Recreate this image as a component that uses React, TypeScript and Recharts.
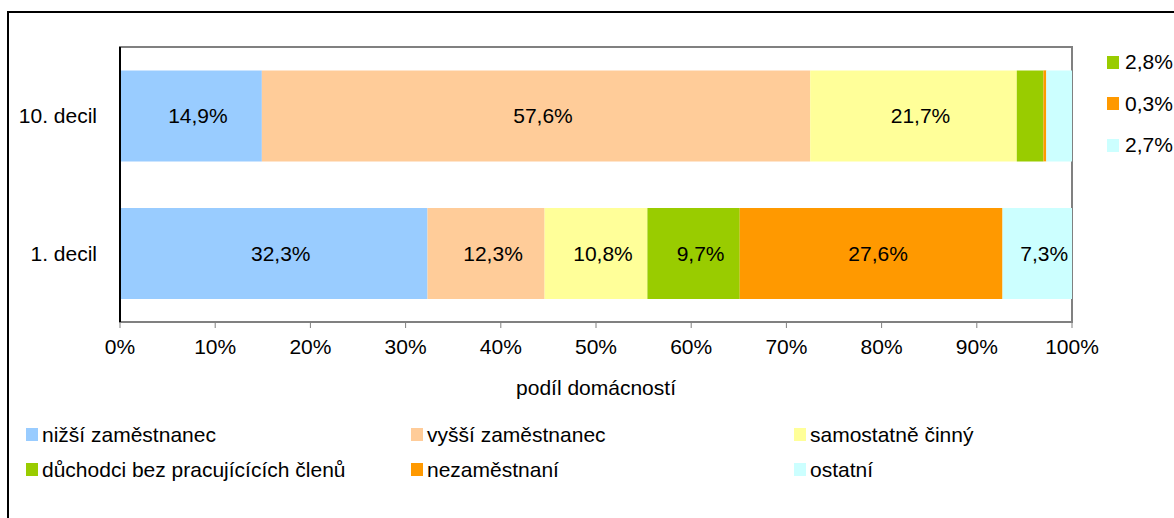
import { BarChart, Bar, XAxis, YAxis, LabelList, Legend, ReferenceArea } from "recharts";

const deciles = ["10. decil", "1. decil"];
const seriesNames = [
  "nižší zaměstnanec",
  "vyšší zaměstnanec",
  "samostatně činný",
  "důchodci bez pracujícících členů",
  "nezaměstnaní",
  "ostatní",
];
const seriesKeys = ["nizsi", "vyssi", "osvc", "duchodci", "nezam", "ostatni"];
const seriesColors = ["#99CCFF", "#FFCC99", "#FFFF99", "#99CC00", "#FF9900", "#CCFFFF"];
// share of households per decile, in %
const topDecile = [14.9, 57.6, 21.7, 2.8, 0.3, 2.7];
const bottomDecile = [32.3, 12.3, 10.8, 9.7, 27.6, 7.3];
const xTicks = [0, 10, 20, 30, 40, 50, 60, 70, 80, 90, 100];
// small segments of the 10th decile, shown in the side key instead of inside the bar
const sideKeyIdx = [3, 4, 5];

const FONT = '"Liberation Sans", Arial, sans-serif';
const FS = 21;

const data = deciles.map((d, i) => {
  const vals = i === 0 ? topDecile : bottomDecile;
  const row: Record<string, string | number> = { decil: d };
  seriesKeys.forEach((k, j) => {
    row[k] = vals[j];
  });
  return row;
});

const fmt = (v: number) => v.toFixed(1).replace(".", ",") + "%";

function BarLabel(props: any) {
  const { x, y, width, height, value } = props;
  if (value == null || value < 5) return null;
  return (
    <text
      x={x + width / 2 + 7}
      y={y + height / 2}
      textAnchor="middle"
      dominantBaseline="central"
      fontSize={FS}
      fontFamily={FONT}
      fill="#000"
    >
      {fmt(value)}
    </text>
  );
}

function BottomLegend() {
  return (
    <div
      style={{
        display: "grid",
        gridTemplateColumns: "385px 383px 300px",
        rowGap: 12,
        fontFamily: FONT,
        fontSize: FS,
        color: "#000",
      }}
    >
      {seriesNames.map((n, i) => (
        <div key={n} style={{ display: "flex", alignItems: "center", height: 23, whiteSpace: "nowrap" }}>
          <span
            style={{
              width: 12,
              height: 13,
              background: seriesColors[i],
              marginRight: 4,
              display: "inline-block",
            }}
          />
          {n}
        </div>
      ))}
    </div>
  );
}

export default function App() {
  return (
    <div style={{ position: "absolute", left: 0, top: 0, width: 1174, height: 518, background: "#fff", overflow: "hidden" }}>
      <div
        style={{
          position: "absolute",
          left: 7,
          top: 11,
          width: 1200,
          height: 540,
          borderLeft: "2px solid #000",
          borderTop: "2px solid #000",
        }}
      />
      <div style={{ position: "absolute", left: 0, top: 0 }}>
        <BarChart
          width={1174}
          height={518}
          data={data}
          layout="vertical"
          margin={{ top: 47, right: 102, left: 0, bottom: 138 }}
          barCategoryGap="17%"
        >
          <ReferenceArea
            xAxisId="main"
            yAxisId="main"
            x1={0}
            x2={100}
            fill="none"
            stroke="#808080"
            strokeWidth={2}
            fillOpacity={0}
            ifOverflow="extendDomain"
          />
          <XAxis
            type="number"
            xAxisId="main"
            domain={[0, 100]}
            ticks={xTicks}
            tickFormatter={(v: number) => v + "%"}
            height={58}
            tickSize={6}
            tickMargin={11}
            axisLine={{ stroke: "#808080", strokeWidth: 2 }}
            tickLine={{ stroke: "#808080" }}
            tick={{ fill: "#000", fontSize: FS, fontFamily: FONT }}
            interval={0}
            label={{
              value: "podíl domácností",
              position: "bottom",
              offset: 0,
              fill: "#000",
              fontSize: FS,
              fontFamily: FONT,
            }}
          />
          <YAxis
            type="category"
            dataKey="decil"
            yAxisId="main"
            width={120}
            tickSize={5}
            tickMargin={18}
            tickLine={false}
            axisLine={{ stroke: "#000", strokeWidth: 2 }}
            tick={{ fill: "#000", fontSize: FS, fontFamily: FONT }}
          />
          {seriesKeys.map((k, i) => (
            <Bar
              key={k}
              dataKey={k}
              name={seriesNames[i]}
              stackId="a"
              xAxisId="main"
              yAxisId="main"
              fill={seriesColors[i]}
              isAnimationActive={false}
            >
              <LabelList dataKey={k} content={BarLabel} />
            </Bar>
          ))}
          <Legend
            layout="vertical"
            align="center"
            verticalAlign="middle"
            wrapperStyle={{ left: 26, top: 423, width: 1100, height: 60 }}
            content={() => <BottomLegend />}
          />
        </BarChart>
      </div>
      <div
        style={{
          position: "absolute",
          left: 1107,
          top: 49,
          fontFamily: FONT,
          fontSize: FS,
          color: "#000",
        }}
      >
        {sideKeyIdx.map((j) => (
          <div key={j} style={{ display: "flex", alignItems: "center", height: 26, marginBottom: 15.5 }}>
            <span
              style={{
                width: 12,
                height: 13,
                background: seriesColors[j],
                marginRight: 6,
                display: "inline-block",
              }}
            />
            {fmt(topDecile[j])}
          </div>
        ))}
      </div>
    </div>
  );
}
